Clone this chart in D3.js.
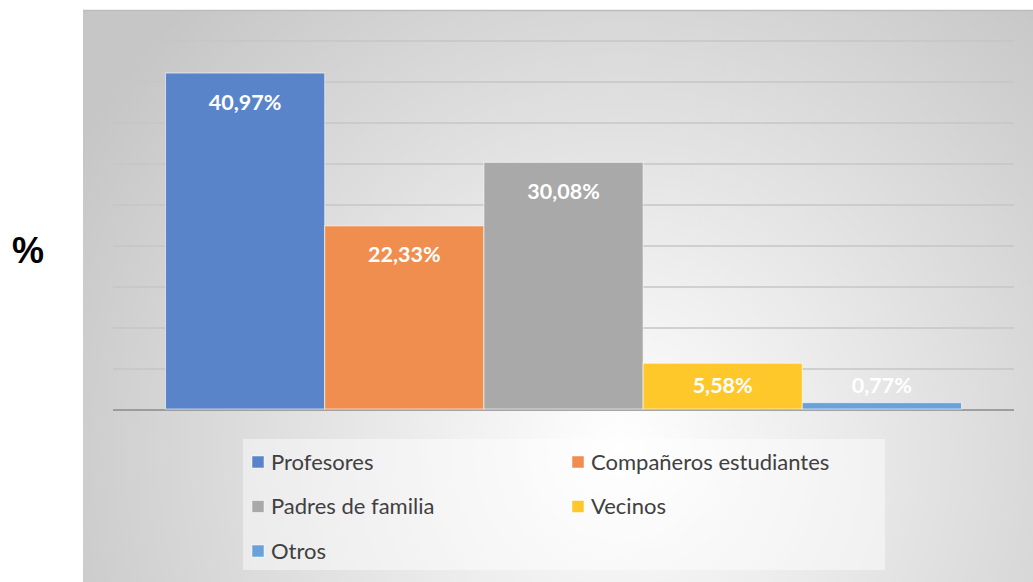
<!DOCTYPE html>
<html>
<head>
<meta charset="utf-8">
<script src="https://cdn.jsdelivr.net/npm/d3@7"></script>
<style>
  body { margin: 0; background: #fff; }
  svg { display: block; }
</style>
</head>
<body>
<div id="chart"></div>
<script>
// chart size
var w = 1033;
var h = 582;

// data
var series = ["Profesores", "Compañeros estudiantes", "Padres de familia", "Vecinos", "Otros"];
var values = [40.97, 22.33, 30.08, 5.58, 0.77];
var labels = ["40,97%", "22,33%", "30,08%", "5,58%", "0,77%"];
var colors = ["#5a84ca", "#ef8e4f", "#a9a9a9", "#ffc82a", "#6aa1da"];

var svg = d3.select("#chart")
            .append("svg")
            .attr("width", w)
            .attr("height", h);

var defs = svg.append("defs");
var grad = defs.append("radialGradient")
            .attr("id", "bg")
            .attr("gradientUnits", "userSpaceOnUse")
            .attr("cx", 620).attr("cy", 450).attr("r", 620);
grad.append("stop").attr("offset", "0%").attr("stop-color", "#ffffff");
grad.append("stop").attr("offset", "100%").attr("stop-color", "#c6c6c6");

// plot background panel
svg.append("rect")
    .attr("x", 83).attr("y", 10)
    .attr("width", w - 83).attr("height", h - 10)
    .attr("fill", "url(#bg)");
svg.append("line")
    .attr("x1", 83).attr("x2", w)
    .attr("y1", 10.5).attr("y2", 10.5)
    .attr("stroke", "#bdbdbd").attr("stroke-width", 1.5);

var y = d3.scaleLinear()
            .domain([0, 45])
            .range([409, 40]);

var x = d3.scaleBand()
            .domain(series)
            .range([113, 1014])
            .paddingInner(0)
            .paddingOuter(0.33);

// gridlines
var grid = svg.append("g")
    .attr("transform", "translate(113,0.5)")
    .call(d3.axisLeft(y).ticks(9).tickSize(-901).tickFormat(""));
grid.select(".domain").remove();
grid.selectAll(".tick line")
    .attr("stroke", function(d){ return d === 0 ? "#8a8a8a" : "#c6c6c6"; })
    .attr("stroke-width", function(d){ return d === 0 ? 1.5 : 1.3; });

// bars
svg.selectAll("rect.bar")
    .data(values)
    .enter()
    .append("rect")
    .attr("class", "bar")
    .attr("x", function(d, i){ return x(series[i]); })
    .attr("y", function(d){ return y(d); })
    .attr("width", x.bandwidth())
    .attr("height", function(d){ return y(0) - y(d); })
    .attr("fill", function(d, i){ return colors[i]; })
    .attr("stroke", "rgba(255,255,255,0.6)")
    .attr("stroke-width", 1);

// value labels
svg.selectAll("text.val")
    .data(values)
    .enter()
    .append("text")
    .attr("class", "val")
    .attr("x", function(d, i){ return x(series[i]) + x.bandwidth() / 2; })
    .attr("y", function(d){ return Math.min(y(d) + 29, y(0) - 24); })
    .attr("dy", "0.35em")
    .attr("text-anchor", "middle")
    .attr("fill", "#ffffff")
    .attr("font-family", "Lato, 'Open Sans', sans-serif")
    .attr("font-weight", "bold")
    .attr("font-size", "21.5px")
    .text(function(d, i){ return labels[i]; });

// axis title
svg.append("text")
    .attr("x", 28).attr("y", 250)
    .attr("dy", "0.35em")
    .attr("text-anchor", "middle")
    .attr("font-family", "'Liberation Sans', Arial, sans-serif")
    .attr("font-weight", "bold")
    .attr("font-size", "36px")
    .attr("fill", "#000")
    .text("%");

// legend
var legend = svg.append("g");
legend.append("rect")
    .attr("x", 243).attr("y", 439)
    .attr("width", 642).attr("height", 131)
    .attr("fill", "rgba(255,255,255,0.45)");

var item = legend.selectAll("g.item")
    .data(series)
    .enter()
    .append("g")
    .attr("class", "item")
    .attr("transform", function(d, i){
        var col = i % 2, row = Math.floor(i / 2);
        return "translate(" + (252 + col * 320) + "," + (462 + row * 44.5) + ")";
    });
item.append("rect")
    .attr("x", 0).attr("y", -6)
    .attr("width", 12).attr("height", 12)
    .attr("fill", function(d, i){ return colors[i]; })
    .attr("stroke", "rgba(255,255,255,0.5)");
item.append("text")
    .attr("x", 19)
    .attr("dy", "0.35em")
    .attr("fill", "#404040")
    .attr("font-family", "Lato, 'Open Sans', sans-serif")
    .attr("font-size", "22px")
    .text(function(d){ return d; });
</script>
</body>
</html>
